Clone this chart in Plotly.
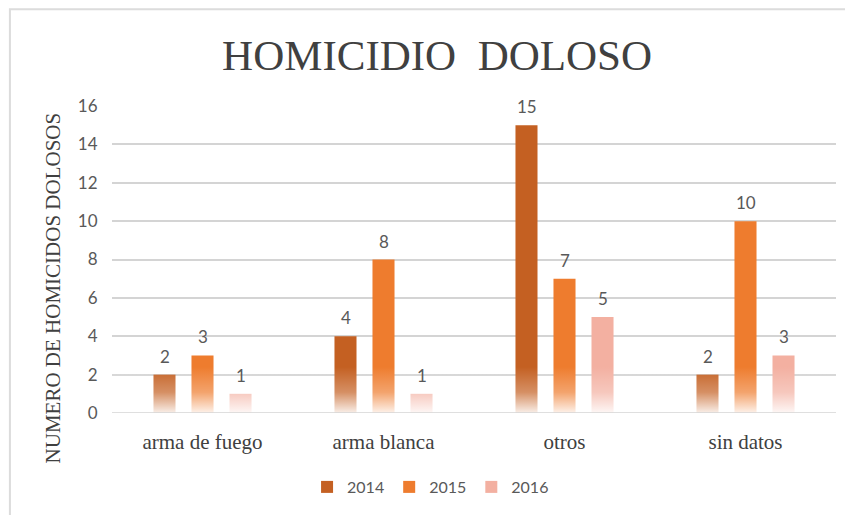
import base64
import plotly.graph_objects as go

# data
categories = ["arma de fuego", "arma blanca", "otros", "sin datos"]
years = ["2014", "2015", "2016"]
values_2014 = [2, 4, 15, 2]
values_2015 = [3, 8, 7, 10]
values_2016 = [1, 1, 5, 3]
y_ticks = [0, 2, 4, 6, 8, 10, 12, 14, 16]

series = [values_2014, values_2015, values_2016]
colors = ["#C46022", "#EE7C2E", "#F3B0A1"]
SERIF = "Liberation Serif, Times New Roman, serif"
SANS = "Lato, Open Sans, sans-serif"
GREY = "#595959"

fig = go.Figure()
for name, vals, col in zip(years, series, colors):
    fig.add_trace(go.Bar(
        x=categories, y=vals, name=name,
        marker=dict(color=col, line=dict(width=0)),
        hoverinfo="x+y+name",
    ))

# value labels as annotations so they stay above the fade overlay
slot = 38
for i, vals in enumerate(series):
    for cat, v in zip(categories, vals):
        fig.add_annotation(
            x=cat, y=v, text=str(v), showarrow=False,
            xshift=(i - 1) * slot, yshift=6, yanchor="bottom",
            font=dict(family=SANS, size=17, color=GREY),
        )

# white fade at the bottom of the bars (Excel-like gradient fill)
svg = (
    '<svg xmlns="http://www.w3.org/2000/svg" width="10" height="100" '
    'viewBox="0 0 10 100" preserveAspectRatio="none">'
    '<defs><linearGradient id="g" x1="0" y1="0" x2="0" y2="1">'
    '<stop offset="0" stop-color="#fff" stop-opacity="0"/>'
    '<stop offset="0.55" stop-color="#fff" stop-opacity="0.3"/>'
    '<stop offset="1" stop-color="#fff" stop-opacity="0.9"/>'
    '</linearGradient></defs>'
    '<rect width="10" height="100" fill="url(#g)"/></svg>'
)
fade_src = "data:image/svg+xml;base64," + base64.b64encode(svg.encode()).decode()
fig.add_layout_image(
    source=fade_src, xref="paper", yref="y", x=0, y=2.4,
    sizex=1, sizey=2.4, sizing="stretch", xanchor="left", yanchor="top",
    layer="above",
)

# zero line on top of the fade
fig.add_shape(type="line", xref="paper", yref="y", x0=0, x1=1, y0=0, y1=0,
              line=dict(color="#D4D4D4", width=1.5), layer="above")

# outer chart border
fig.add_shape(type="rect", xref="paper", yref="paper",
              x0=-0.141, x1=1.05, y0=-0.36, y1=1.315,
              line=dict(color="#DCDCDC", width=2), layer="below")

# y axis title
fig.add_annotation(
    text="NUMERO DE HOMICIDOS DOLOSOS", textangle=-90, showarrow=False,
    xref="paper", yref="paper", x=-0.0815, y=0.409,
    xanchor="center", yanchor="middle",
    font=dict(family=SERIF, size=21, color="#404040"),
)

fig.update_layout(
    width=845, height=507,
    margin=dict(l=104, r=17, t=98, b=101),
    paper_bgcolor="white", plot_bgcolor="white",
    barmode="group", bargap=0.37, bargroupgap=0.42,
    title=dict(
        text="HOMICIDIO  DOLOSO", x=0.449, xref="paper", xanchor="center",
        y=1 - 47 / 507, yref="container", yanchor="middle",
        font=dict(family=SERIF, size=43, color="#404040"),
    ),
    xaxis=dict(
        showgrid=False, showline=False, zeroline=False,
        ticks="outside", ticklen=10, tickcolor="rgba(0,0,0,0)",
        tickfont=dict(family=SERIF, size=21, color="#404040"),
    ),
    yaxis=dict(
        range=[0, 16], tickvals=y_ticks, showgrid=True,
        gridcolor="#D4D4D4", gridwidth=1.5, zeroline=False, showline=False,
        ticks="outside", ticklen=10, tickcolor="rgba(0,0,0,0)",
        tickfont=dict(family=SANS, size=17, color=GREY),
    ),
    legend=dict(
        orientation="h", x=0.44, xanchor="center", y=-0.237, yanchor="middle",
        font=dict(family=SANS, size=16, color=GREY),
        itemwidth=30, traceorder="normal",
    ),
    showlegend=True,
)

fig.write_html("out.html")
